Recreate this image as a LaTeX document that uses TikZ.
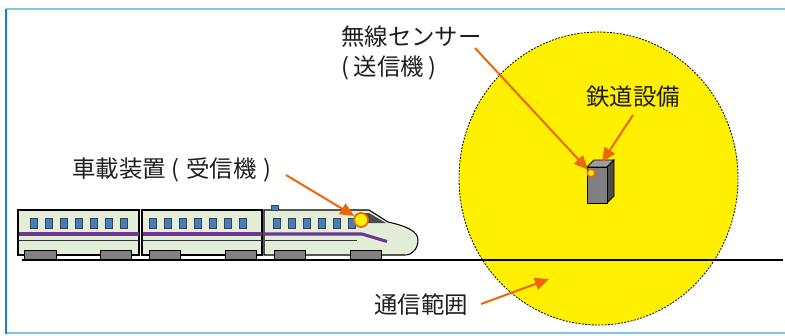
\documentclass[tikz,border=0pt]{standalone}
\usepackage{fontspec}
\setmainfont{Noto Sans CJK JP}
\usetikzlibrary{arrows.meta}

\definecolor{frametop}{RGB}{125,198,235}
\definecolor{frameleft}{RGB}{20,128,198}
\definecolor{rangeyellow}{RGB}{255,240,0}
\definecolor{arrorange}{RGB}{236,102,10}
\definecolor{carbody}{RGB}{227,238,217}
\definecolor{winblue}{RGB}{62,128,196}
\definecolor{stripe}{RGB}{110,52,150}
\definecolor{txtgray}{RGB}{30,30,30}

\tikzset{
  lbl/.style={font=\fontsize{20pt}{25.5pt}\selectfont, text=txtgray, inner sep=0pt, align=left},
  arr/.style={draw=arrorange, line width=1.7pt, -{Triangle[length=12pt,width=10.5pt]}},
  car/.style={draw=black, line width=0.9pt, fill=carbody},
  win/.style={draw=black!75, line width=0.5pt, fill=winblue},
  bogie/.style={draw=black, line width=0.8pt, fill=gray},
  antenna/.style={circle, draw=arrorange, fill=rangeyellow, inner sep=0pt}
}

\begin{document}
\begin{tikzpicture}[x=0.03cm,y=-0.03cm]
    \useasboundingbox (0,0) rectangle (785,335);
    \draw[line width=1.7pt,frametop] (6,9)--(785,9);
    \draw[line width=1.7pt,frametop] (6,333)--(785,333);
    \draw[line width=1.3pt,frameleft] (6,9)--(6,334);

    % coverage area and ground
    \draw[fill=rangeyellow,line width=0.7pt,dash pattern=on 1.6pt off 1.2pt] (598.5,178.5) ellipse [x radius=139.5, y radius=146.5];
    \draw[line width=1.8pt] (22,260)--(783,260);

    % train
    \draw[car] (18,210) rectangle (139,255);
    \draw[car] (142,210) rectangle (262,255);
    \draw[car] (264,210)--(369,210)--(388,222) .. controls (406,226) and (418,231) .. (418,240)
        .. controls (418,248) and (413,255) .. (405,255)--(264,255)--cycle;
    \fill[gray!60!black] (359,213)--(369,213)--(386,223)--(359,223)--cycle;
    \draw[stripe,line width=2.6pt] (18.5,234)--(138.5,234) (142.5,234)--(261.5,234);
    \draw[stripe,line width=2.6pt,line join=round] (264.5,234)--(362,234)--(387,241.5);
    \draw[black!80,line width=0.7pt] (18.5,240)--(138.5,240) (142.5,240)--(261.5,240) (264.5,240)--(357,240);
    \foreach \x in {34,49,...,124} \draw[win] (\x-3.5,218) rectangle (\x+3.5,228);
    \foreach \x in {153,168,...,243} \draw[win] (\x-3.5,218) rectangle (\x+3.5,228);
    \foreach \x in {277,292,...,352} \draw[win] (\x-3.5,218) rectangle (\x+3.5,228);
    \draw[win] (271,205) rectangle (278,210);
    \foreach \a/\b in {24/56,100/131,149/180,225/256,274/305,350/381}
        \draw[bogie] (\a,250) rectangle (\b,259);
    \node[antenna, minimum size=12pt, line width=1.4pt] (rx) at (361,220) {};

    % railway equipment with sensor
    \draw[fill=gray!75,line width=0.8pt] (587,167)--(594,160)--(614,160)--(607,167)--cycle;
    \draw[fill=gray!60!black,line width=0.8pt] (607,167)--(614,160)--(614,196)--(607,203)--cycle;
    \draw[fill=gray,line width=0.8pt] (587,167) rectangle (607,203);
    \node[antenna, minimum size=6.5pt, line width=1.2pt] (tx) at (591,173) {};
    \coordinate (equiptop) at (602,162);

    % labels
    \node[lbl, anchor=west] (sensorlbl) at (341,53) {無線センサー\\(\kern4pt送信機\kern4pt)};
    \node[lbl, anchor=west] (equiplbl) at (586,97) {鉄道設備};
    \node[lbl, anchor=west] (rxlbl) at (72,170) {車載装置 (\kern6pt受信機\kern6pt)};
    \node[lbl, anchor=west] (rangelbl) at (374,305) {通信範囲};

    \coordinate (sensortail) at (475,48);
    \coordinate (equiptail) at (633,115);
    \coordinate (rxtail) at (286,175);
    \coordinate (rangetail) at (481,304);
    \coordinate (rangetip) at (549,279);

    \draw[arr] (sensortail)--(tx);
    \draw[arr] (equiptail)--(equiptop);
    \draw[arr] (rxtail)--(rx);
    \draw[arr] (rangetail)--(rangetip);
\end{tikzpicture}
\end{document}
